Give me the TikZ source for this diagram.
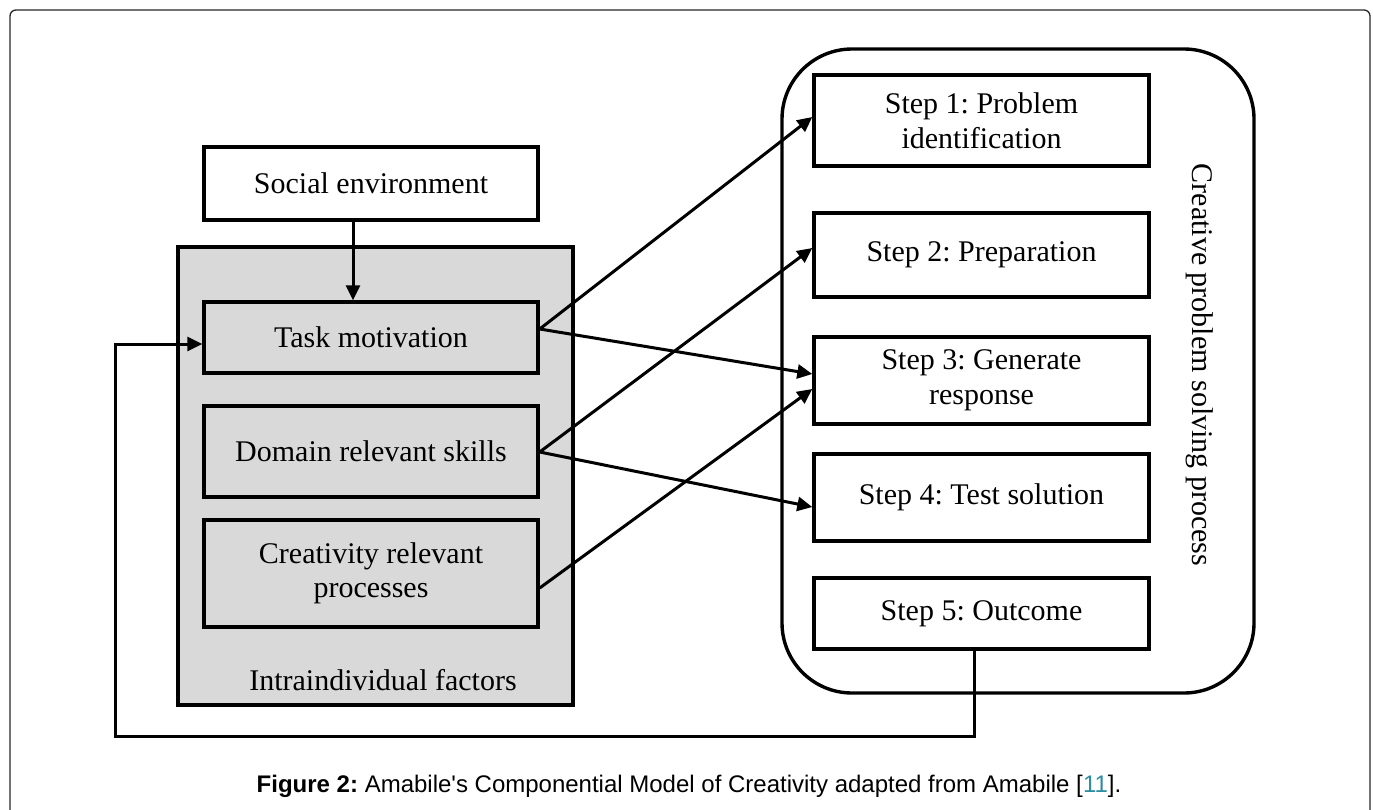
\documentclass[tikz,border=0pt]{standalone}
\usepackage{fontspec}
\setmainfont{Liberation Serif}
\newfontfamily\capfont{Liberation Sans}
\usetikzlibrary{calc,arrows.meta}
\definecolor{boxgray}{RGB}{217,217,217}
\definecolor{linkteal}{RGB}{45,140,160}
\begin{document}
\frenchspacing
\begin{tikzpicture}[x=1pt,y=-1pt,
  box/.style={draw=black, line width=3.4pt, inner sep=0pt, align=center,
    font=\fontsize{30}{34.5}\selectfont\frenchspacing},
  leftbox/.style={box, fill=boxgray, minimum width=334pt},
  stepbox/.style={box, fill=white, minimum width=335pt},
  arr/.style={line width=3pt, -{Triangle[length=15pt,width=14pt]}}
]
\useasboundingbox (0,0) rectangle (1373,809);
% outer frame
\draw[line width=1.3pt, rounded corners=6pt, black!85] (10,812) -- (10,10) -- (1370,10) -- (1370,812);

% left group
\node[draw=black, line width=3.4pt, fill=boxgray, minimum width=395pt, minimum height=458pt, inner sep=0pt] (indiv) at (375.5,476) {};
\node[box, fill=white, minimum width=334pt, minimum height=73pt] (social) at (371,183.5) {Social environment};
\node[leftbox, minimum height=71pt] (task) at (371,337.5) {Task motivation};
\node[leftbox, minimum height=91pt] (domain) at (371,451.5) {Domain relevant skills};
\node[leftbox, minimum height=107pt] (crea) at (371,573.5) {Creativity relevant\\processes};
\node[anchor=base, font=\fontsize{30}{34.5}\selectfont] (indivlabel) at (383,690) {Intraindividual factors};

% right group
\node[draw=black, line width=3.4pt, rounded corners=70pt, minimum width=472pt, minimum height=644pt, inner sep=0pt] (process) at (1018,371) {};
\node[stepbox, minimum height=91pt] (s1) at (981.5,120.5) {Step 1: Problem\\identification};
\node[stepbox, minimum height=84pt] (s2) at (981.5,255) {Step 2: Preparation};
\node[stepbox, minimum height=87pt] (s3) at (981.5,380.5) {Step 3: Generate\\response};
\node[stepbox, minimum height=87pt] (s4) at (981.5,497.5) {Step 4: Test solution};
\node[stepbox, minimum height=71pt] (s5) at (981.5,613.5) {Step 5: Outcome};
\node[rotate=-90, anchor=base, font=\fontsize{30}{34.5}\selectfont] (proclabel) at (1192,365) {Creative problem solving process};

% connectors
\draw[arr] ($(social.south)+(-18,0)$) -- ($(task.north)+(-18,0)$);
\draw[arr] ($(task.east)+(0,-8.5)$) -- ($(s1.west)+(0,-3.5)$);
\draw[arr] ($(task.east)+(0,-8.5)$) -- ($(s3.west)+(0,-6.5)$);
\draw[arr] ($(domain.east)+(0,0.5)$) -- ($(s2.west)+(0,-7)$);
\draw[arr] ($(domain.east)+(0,0.5)$) -- ($(s4.west)+(0,9.5)$);
\draw[arr] ($(crea.east)+(0,14.5)$) -- ($(s3.west)+(0,8.5)$);

\coordinate (fbA) at (974,736);
\coordinate (fbB) at (115,736);
\coordinate (fbC) at (115,344);
\draw[arr] ($(s5.south)+(-7.5,0)$) -- (fbA) -- (fbB) -- (fbC) -- ($(task.west)+(0,6.5)$);

% caption
\node[anchor=base, font=\capfont\fontsize{24}{28}\selectfont] (caption) at (689,792)
  {\textbf{Figure 2:} Amabile\textquotesingle s Componential Model of Creativity adapted from Amabile [\textcolor{linkteal}{11}].};
\end{tikzpicture}
\end{document}
